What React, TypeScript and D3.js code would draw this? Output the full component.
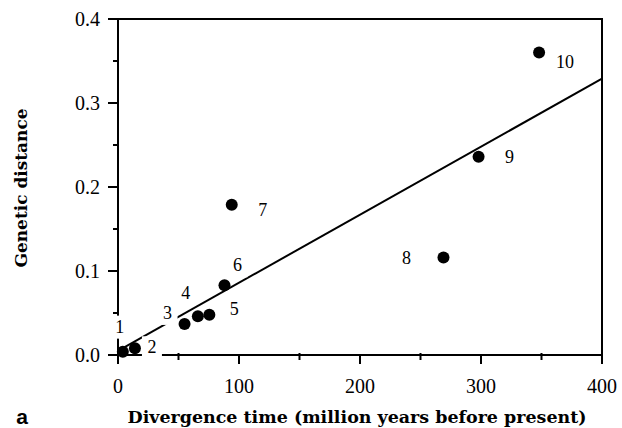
import React from "react";
import * as d3 from "d3";

// Divergence time (Myr) vs genetic distance for ten taxon pairs
const pairIds = ["1", "2", "3", "4", "5", "6", "7", "8", "9", "10"];
const divergenceTime = [4, 14, 55, 66, 75.5, 88, 94, 269, 298, 348];
const geneticDistance = [0.004, 0.008, 0.037, 0.046, 0.048, 0.083, 0.179, 0.116, 0.236, 0.36];

// Fitted regression line endpoints
const fitX = [0, 400];
const fitY = [0.005, 0.329];

const xTicks = [0, 100, 200, 300, 400];
const xMinor = [50, 150, 250, 350];
const yTicks = [0, 0.1, 0.2, 0.3, 0.4];
const yMinor = [0.05, 0.15, 0.25, 0.35];

// Label offsets relative to each point (px)
const labelOffsets: [number, number][] = [
  [-3, -25],
  [17, -1],
  [-17, -11],
  [-12, -23],
  [25, -6],
  [13, -20],
  [31, 5],
  [-37, 0],
  [31, 0],
  [26, 9],
];

const W = 622;
const H = 428;
const M = { left: 118, right: 602, top: 19, bottom: 355 };

export default function App() {
  const x = d3.scaleLinear().domain([0, 400]).range([M.left, M.right]);
  const y = d3.scaleLinear().domain([0, 0.4]).range([M.bottom, M.top]);
  const serif = "'Liberation Serif', 'DejaVu Serif', serif";
  const titleFont = "'DejaVu Serif', 'Liberation Serif', serif";
  const line = d3.line<number>()
    .x((_, i) => x(fitX[i]))
    .y((d) => y(d));

  return (
    <svg
      width={W}
      height={H}
      style={{ position: "absolute", left: 0, top: 0, background: "#fff" }}
    >
      <rect x={0} y={0} width={W} height={H} fill="#fff" />
      {/* frame */}
      <rect
        x={M.left}
        y={M.top}
        width={M.right - M.left}
        height={M.bottom - M.top}
        fill="none"
        stroke="#000"
        strokeWidth={2}
      />
      {/* y ticks */}
      {yTicks.map((t) => (
        <g key={"yt" + t}>
          <line x1={M.left - 10} x2={M.left} y1={y(t)} y2={y(t)} stroke="#000" strokeWidth={2} />
          <text
            x={M.left - 18}
            y={y(t) + 7}
            textAnchor="end"
            fontFamily={serif}
            fontSize={20}
          >
            {t.toFixed(1)}
          </text>
        </g>
      ))}
      {yMinor.map((t) => (
        <line key={"ym" + t} x1={M.left - 5} x2={M.left} y1={y(t)} y2={y(t)} stroke="#000" strokeWidth={2} />
      ))}
      {/* x ticks */}
      {xTicks.map((t) => (
        <g key={"xt" + t}>
          <line x1={x(t)} x2={x(t)} y1={M.bottom} y2={M.bottom + 9} stroke="#000" strokeWidth={2} />
          <text
            x={x(t)}
            y={M.bottom + 38}
            textAnchor="middle"
            fontFamily={serif}
            fontSize={20}
          >
            {t}
          </text>
        </g>
      ))}
      {xMinor.map((t) => (
        <line key={"xm" + t} x1={x(t)} x2={x(t)} y1={M.bottom - 2} y2={M.bottom + 5} stroke="#000" strokeWidth={2} />
      ))}
      {/* regression line */}
      <path d={line(fitY) || ""} fill="none" stroke="#000" strokeWidth={2} />
      {/* points */}
      {divergenceTime.map((d, i) => (
        <circle key={"p" + i} cx={x(d)} cy={y(geneticDistance[i])} r={6} fill="#000" />
      ))}
      {/* point labels, with white backing */}
      {divergenceTime.map((d, i) => {
        const lx = x(d) + labelOffsets[i][0];
        const ly = y(geneticDistance[i]) + labelOffsets[i][1];
        const w = pairIds[i].length * 9 + 11;
        return (
          <g key={"l" + i}>
            <rect x={lx - w / 2} y={ly - 11} width={w} height={23} fill="#fff" />
            <text
              x={lx}
              y={ly + 6}
              textAnchor="middle"
              fontFamily={serif}
              fontSize={18}
            >
              {pairIds[i]}
            </text>
          </g>
        );
      })}
      {/* axis titles */}
      <text
        x={357}
        y={423}
        textAnchor="middle"
        fontFamily={titleFont}
        fontWeight="bold"
        fontSize={17}
        textLength={459}
        lengthAdjust="spacingAndGlyphs"
      >
        Divergence time (million years before present)
      </text>
      <text
        transform="translate(27,188) rotate(-90)"
        textAnchor="middle"
        fontFamily={titleFont}
        fontWeight="bold"
        fontSize={17}
        textLength={159}
        lengthAdjust="spacingAndGlyphs"
      >
        Genetic distance
      </text>
      <text
        x={22}
        y={424}
        textAnchor="middle"
        fontFamily="'Liberation Sans', Arial, sans-serif"
        fontWeight="bold"
        fontSize={21}
      >
        a
      </text>
    </svg>
  );
}
